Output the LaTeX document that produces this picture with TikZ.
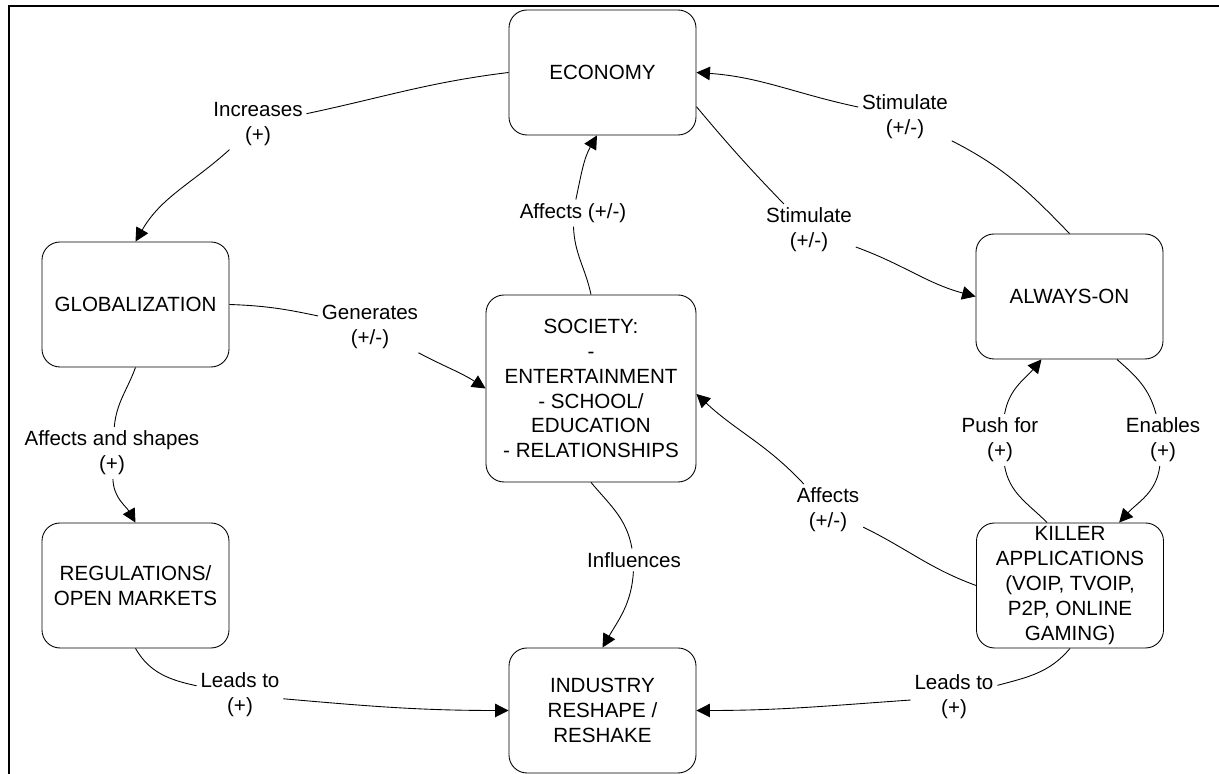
\documentclass[tikz,border=0pt]{standalone}
\usepackage{fontspec}
\setmainfont{Liberation Sans}
\usetikzlibrary{arrows.meta}

\begin{document}
\begin{tikzpicture}[every text node part/.style={align=center},
  every node/.style={font=\fontsize{11.7}{14.2}\selectfont},
  box/.style={draw,rounded corners=0.36cm,minimum width=3.74cm,minimum height=2.5cm,inner sep=1pt},
  lbl/.style={inner sep=2pt},
  >={Triangle[length=2.7mm,width=2.7mm]},line width=0.5pt]

\useasboundingbox(0,0)rectangle(24.38,15.48);
\draw[line width=1.1pt](0.18,0)--(0.18,15.36)--(24.38,15.36);

\node[box](eco)at(12.05,14.03){ECONOMY};
\node[box](glob)at(2.71,9.39){GLOBALIZATION};
\node[box](reg)at(2.71,3.77){REGULATIONS/\\OPEN MARKETS};
\node[box,minimum width=4.2cm,minimum height=3.74cm](soc)at(11.82,7.71){SOCIETY:\\-\\ENTERTAINMENT\\- SCHOOL/\\EDUCATION\\- RELATIONSHIPS};
\node[box](always)at(21.39,9.55){ALWAYS-ON};
\node[box](killer)at(21.40,3.77){KILLER\\APPLICATIONS\\(VOIP, TVOIP,\\P2P, ONLINE\\GAMING)};
\node[box](ind)at(12.05,1.27){INDUSTRY\\RESHAPE /\\RESHAKE};

\node[lbl](inc)at(5.16,13.00){Increases\\(+)};
\node[lbl](stimA)at(18.10,13.14){Stimulate\\(+/-)};
\node[lbl](stimB)at(16.18,10.88){Stimulate\\(+/-)};
\node[lbl](affEco)at(11.46,11.22){Affects (+/-)};
\node[lbl](gen)at(7.40,8.94){Generates\\(+/-)};
\node[lbl](affSh)at(2.24,6.42){Affects and shapes\\(+)};
\node[lbl](infl)at(12.68,4.28){Influences};
\node[lbl](leadL)at(4.80,1.58){Leads to\\(+)};
\node[lbl](leadR)at(19.08,1.54){Leads to\\(+)};
\node[lbl](affSoc)at(16.56,5.28){Affects\\(+/-)};
\node[lbl](enab)at(23.26,6.68){Enables\\(+)};
\node[lbl](push)at(20.00,6.68){Push for\\(+)};

\draw(eco.west)to[out=187,in=12](inc);
\draw[->](inc)to[out=222,in=60](glob.north);

\draw(always.north)to[out=134,in=-27](stimA);
\draw[->](stimA)to[out=168,in=-4](eco.east);

\draw(eco.-20)to[out=-50,in=134](stimB);
\draw[->](stimB)to[out=-20,in=165](always.west);

\draw(soc.north)to[out=102,in=-88](affEco);
\draw[->](affEco)to[out=78,in=240](eco.265);

\draw(glob.east)to[out=-2,in=168](gen);
\draw[->](gen)to[out=-28,in=147](soc.west);

\draw(glob.south)to[out=250,in=85](affSh);
\draw[->](affSh)to[out=-88,in=120](reg.north);

\draw(soc.south)to[out=-50,in=100](infl);
\draw[->](infl)to[out=-93,in=60](ind.north);

\draw(reg.south)to[out=-60,in=168](leadL);
\draw[->](leadL)to[out=-5,in=180](ind.west);

\draw(killer.south)to[out=230,in=15](leadR);
\draw[->](leadR)to[out=184,in=0](ind.east);

\draw(killer.west)to[out=160,in=-26](affSoc);
\draw[->](affSoc)to[out=133,in=-43](soc.-3);

\draw(always.-53)to[out=-41,in=105](enab);
\draw[->](enab)to[out=-97,in=48](killer.52);

\draw(killer.110)to[out=135,in=-80](push);
\draw[->](push)to[out=80,in=230](always.-114);

\end{tikzpicture}
\end{document}
